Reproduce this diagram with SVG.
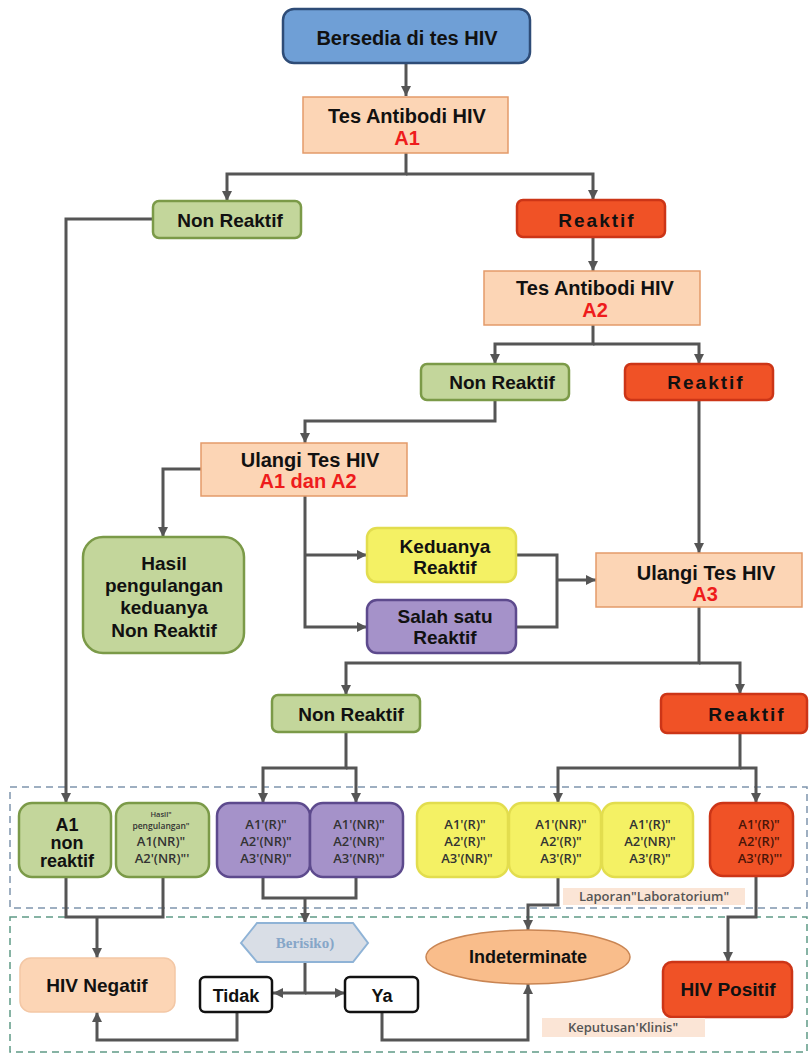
<svg xmlns="http://www.w3.org/2000/svg" width="809" height="1054" viewBox="0 0 809 1054">
  <defs>
    <marker id="arrow" viewBox="0 0 10 10" refX="10" refY="5" markerWidth="10" markerHeight="10" markerUnits="userSpaceOnUse" orient="auto">
      <path d="M0,0 L10,5 L0,10 z" fill="#555"/>
    </marker>
  </defs>
  <style>
    text { font-family: "Liberation Sans", Arial, sans-serif; text-anchor: middle; fill: #111; }
    .h { font-size: 20px; font-weight: bold; }
    .m { font-size: 19px; font-weight: bold; }
    .red { fill: #ee1c1c; }
    .sp { letter-spacing: 2px; }
    .code { font-family: "Open Sans", "DejaVu Sans", sans-serif; font-size: 13px; font-weight: 600; fill: #333; }
    .blue { fill: #6f9fd6; stroke: #2e4c77; stroke-width: 2.5; }
    .peach { fill: #fcd5b5; stroke: #e39a6a; stroke-width: 1.5; }
    .green { fill: #c3d69b; stroke: #7b9a48; stroke-width: 2.5; }
    .redbox { fill: #f05226; stroke: #cc3517; stroke-width: 2.5; }
    .yellow { fill: #f4f164; stroke: #e2dd4e; stroke-width: 2.5; }
    .purple { fill: #a592c9; stroke: #5d4a8d; stroke-width: 2.5; }
    .white { fill: #fff; stroke: #111; stroke-width: 2.5; }
    .conn path { fill: none; stroke: #555; stroke-width: 3; }
    .zone { fill: none; stroke-width: 1.5; stroke-dasharray: 7 5; }
    .tag { fill: #fbe5d6; }
    .tagtext { font-family: "Open Sans", "DejaVu Sans", sans-serif; font-size: 13px; font-weight: 600; fill: #555; }
  </style>

  <!-- dashed report / decision zones -->
  <rect class="zone" x="10" y="787" width="797" height="121" stroke="#7f95ad"/>
  <rect class="zone" x="10" y="917" width="797" height="135" stroke="#5f9a86"/>

  <!-- connectors -->
  <g id="connectors" class="conn">
    <path d="M406,63 V96" marker-end="url(#arrow)"/>
    <path d="M406,153 V174 H227 V201" marker-end="url(#arrow)"/>
    <path d="M406,174 H593 V200" marker-end="url(#arrow)"/>
    <path d="M153,219 H66 V803" marker-end="url(#arrow)"/>
    <path d="M593,237 V271" marker-end="url(#arrow)"/>
    <path d="M593,325 V344 H495 V364" marker-end="url(#arrow)"/>
    <path d="M593,344 H699 V364" marker-end="url(#arrow)"/>
    <path d="M495,400 V421 H305 V443" marker-end="url(#arrow)"/>
    <path d="M201,469 H163 V537" marker-end="url(#arrow)"/>
    <path d="M305,496 V627 H367" marker-end="url(#arrow)"/>
    <path d="M305,555 H367" marker-end="url(#arrow)"/>
    <path d="M517,555 H557 V627 H517"/>
    <path d="M557,580 H596" marker-end="url(#arrow)"/>
    <path d="M699,400 V553" marker-end="url(#arrow)"/>
    <path d="M699,607 V663 H346 V695" marker-end="url(#arrow)"/>
    <path d="M699,663 H740 V694" marker-end="url(#arrow)"/>
    <path d="M346,732 V768 H263 V803" marker-end="url(#arrow)"/>
    <path d="M346,768 H356 V803" marker-end="url(#arrow)"/>
    <path d="M740,733 V768 H558 V803" marker-end="url(#arrow)"/>
    <path d="M740,768 H756 V803" marker-end="url(#arrow)"/>
    <path d="M66,877 V917 H163 V877"/>
    <path d="M97,917 V958" marker-end="url(#arrow)"/>
    <path d="M263,877 V898 H356 V877"/>
    <path d="M305,898 V923" marker-end="url(#arrow)"/>
    <path d="M305,962 V993 H273" marker-end="url(#arrow)"/>
    <path d="M305,993 H345" marker-end="url(#arrow)"/>
    <path d="M237,1012 V1040 H97 V1012" marker-end="url(#arrow)"/>
    <path d="M382,1012 V1040 H528 V984" marker-end="url(#arrow)"/>
    <path d="M558,877 V905 H528 V930" marker-end="url(#arrow)"/>
    <path d="M756,877 V917 H728 V962" marker-end="url(#arrow)"/>
  </g>

  <g id="start">
    <rect class="blue" x="283" y="9" width="247" height="54" rx="11"/>
    <text class="h" x="407" y="45">Bersedia di tes HIV</text>
  </g>

  <g id="test-a1">
    <rect class="peach" x="303" y="97" width="205" height="56"/>
    <text class="h" x="407" y="123">Tes Antibodi HIV</text>
    <text class="h red" x="407" y="145">A1</text>
  </g>

  <g id="a1-nonreactive">
    <rect class="green" x="153" y="201" width="148" height="37" rx="6"/>
    <text class="m" x="230" y="227">Non Reaktif</text>
  </g>

  <g id="a1-reactive">
    <rect class="redbox" x="517" y="200" width="148" height="37" rx="6"/>
    <text class="m sp" x="597" y="227">Reaktif</text>
  </g>

  <g id="test-a2">
    <rect class="peach" x="484" y="271" width="216" height="54"/>
    <text class="h" x="595" y="295">Tes Antibodi HIV</text>
    <text class="h red" x="595" y="317">A2</text>
  </g>

  <g id="a2-nonreactive">
    <rect class="green" x="421" y="364" width="148" height="36" rx="6"/>
    <text class="m" x="502" y="389">Non Reaktif</text>
  </g>

  <g id="a2-reactive">
    <rect class="redbox" x="625" y="364" width="148" height="36" rx="6"/>
    <text class="m sp" x="706" y="389">Reaktif</text>
  </g>

  <g id="retest-a1-a2">
    <rect class="peach" x="201" y="443" width="206" height="53"/>
    <text class="h" x="310" y="467">Ulangi Tes HIV</text>
    <text class="h red" x="308" y="488">A1 dan A2</text>
  </g>

  <g id="both-nonreactive">
    <rect class="green" x="83" y="537" width="161" height="116" rx="20"/>
    <text class="m" x="164" y="570">Hasil</text>
    <text class="m" x="164" y="592">pengulangan</text>
    <text class="m" x="164" y="614">keduanya</text>
    <text class="m" x="164" y="637">Non Reaktif</text>
  </g>

  <g id="both-reactive">
    <rect class="yellow" x="367" y="528" width="149" height="54" rx="10"/>
    <text class="m" x="445" y="553">Keduanya</text>
    <text class="m" x="445" y="574">Reaktif</text>
  </g>

  <g id="one-reactive">
    <rect class="purple" x="367" y="600" width="149" height="53" rx="10"/>
    <text class="m" x="445" y="623">Salah satu</text>
    <text class="m" x="445" y="644">Reaktif</text>
  </g>

  <g id="retest-a3">
    <rect class="peach" x="596" y="553" width="206" height="54"/>
    <text class="h" x="706" y="580">Ulangi Tes HIV</text>
    <text class="h red" x="705" y="601">A3</text>
  </g>

  <g id="a3-nonreactive">
    <rect class="green" x="272" y="695" width="148" height="37" rx="6"/>
    <text class="m" x="351" y="721">Non Reaktif</text>
  </g>

  <g id="a3-reactive">
    <rect class="redbox" x="661" y="694" width="146" height="39" rx="6"/>
    <text class="m sp" x="747" y="721">Reaktif</text>
  </g>

  <!-- laboratory report boxes -->
  <g id="lab-a1-nonreactive">
    <rect class="green" x="19" y="803" width="92" height="74" rx="13"/>
    <text x="67" y="831" style="font-size:18px;font-weight:bold">A1</text>
    <text x="67" y="849" style="font-size:18px;font-weight:bold">non</text>
    <text x="67" y="867" style="font-size:18px;font-weight:bold">reaktif</text>
  </g>

  <g id="lab-repeat-nonreactive">
    <rect class="green" x="116" y="803" width="93" height="74" rx="13"/>
    <text class="code" x="161" y="817" style="font-size:7.5px">Hasil"</text>
    <text class="code" x="161" y="829" style="font-size:8.5px">pengulangan"</text>
    <text class="code" x="161" y="846">A1(NR)"</text>
    <text class="code" x="162" y="863">A2'(NR)"'</text>
  </g>

  <g id="lab-p1">
    <rect class="purple" x="217" y="803" width="93" height="74" rx="13"/>
    <text class="code" x="266" y="829">A1'(R)"</text>
    <text class="code" x="266" y="846">A2'(NR)"</text>
    <text class="code" x="266" y="863">A3'(NR)"</text>
  </g>

  <g id="lab-p2">
    <rect class="purple" x="310" y="803" width="93" height="74" rx="13"/>
    <text class="code" x="359" y="829">A1'(NR)"</text>
    <text class="code" x="359" y="846">A2'(NR)"</text>
    <text class="code" x="359" y="863">A3'(NR)"</text>
  </g>

  <g id="lab-y1">
    <rect class="yellow" x="417" y="803" width="91" height="74" rx="13"/>
    <text class="code" x="465" y="829">A1'(R)"</text>
    <text class="code" x="465" y="846">A2'(R)"</text>
    <text class="code" x="467" y="863">A3'(NR)"</text>
  </g>

  <g id="lab-y2">
    <rect class="yellow" x="509" y="803" width="92" height="74" rx="13"/>
    <text class="code" x="561" y="829">A1'(NR)"</text>
    <text class="code" x="561" y="846">A2'(R)"</text>
    <text class="code" x="561" y="863">A3'(R)"</text>
  </g>

  <g id="lab-y3">
    <rect class="yellow" x="602" y="803" width="91" height="74" rx="13"/>
    <text class="code" x="650" y="829">A1'(R)"</text>
    <text class="code" x="650" y="846">A2'(NR)"</text>
    <text class="code" x="650" y="863">A3'(R)"</text>
  </g>

  <g id="lab-r">
    <rect class="redbox" x="710" y="803" width="83" height="73" rx="13"/>
    <text class="code" x="759" y="829" style="fill:#4a1508">A1'(R)"</text>
    <text class="code" x="759" y="846" style="fill:#4a1508">A2'(R)"</text>
    <text class="code" x="760" y="863" style="fill:#4a1508">A3'(R)"'</text>
  </g>

  <g id="lab-label">
    <rect class="tag" x="563" y="888" width="182" height="17"/>
    <text class="tagtext" x="654" y="901">Laporan"Laboratorium"</text>
  </g>

  <!-- clinical decision -->
  <g id="risk">
    <polygon points="241,943 257,923 353,923 368,943 353,962 257,962" fill="#d9dee6" stroke="#8fb3d6" stroke-width="2"/>
    <text x="305" y="948" style="font-family:'Liberation Serif','DejaVu Serif',serif;font-size:15px;font-weight:bold;fill:#86a6c8">Berisiko)</text>
  </g>

  <g id="no">
    <rect class="white" x="200" y="977" width="72" height="35" rx="5"/>
    <text x="236" y="1002" style="font-size:18px;font-weight:bold">Tidak</text>
  </g>

  <g id="yes">
    <rect class="white" x="345" y="977" width="73" height="35" rx="5"/>
    <text x="382" y="1002" style="font-size:18px;font-weight:bold">Ya</text>
  </g>

  <g id="hiv-negative">
    <rect class="peach" x="20" y="958" width="155" height="54" rx="11" style="stroke:#f3c7a5"/>
    <text x="97" y="992" style="font-size:19px;font-weight:bold">HIV Negatif</text>
  </g>

  <g id="indeterminate">
    <ellipse cx="528" cy="957" rx="102" ry="27" fill="#f9bd8b" stroke="#c98553" stroke-width="1.5"/>
    <text x="528" y="963" style="font-size:18px;font-weight:bold">Indeterminate</text>
  </g>

  <g id="hiv-positive">
    <rect class="redbox" x="663" y="962" width="129" height="55" rx="9"/>
    <text x="728" y="996" style="font-size:19px;font-weight:bold">HIV Positif</text>
  </g>

  <g id="clinical-label">
    <rect class="tag" x="542" y="1018" width="163" height="19"/>
    <text class="tagtext" x="623" y="1032">Keputusan'Klinis"</text>
  </g>
</svg>
